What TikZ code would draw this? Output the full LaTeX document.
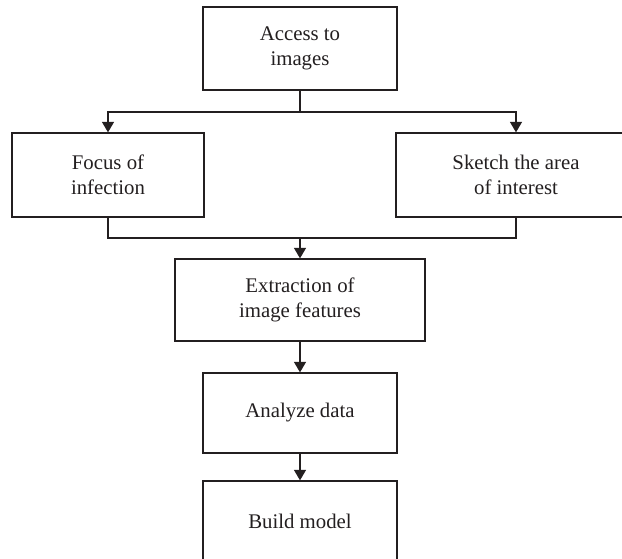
\documentclass[tikz,border=0pt]{standalone}
\usepackage{fontspec}
\setmainfont{Liberation Serif}
\usetikzlibrary{arrows.meta}
\definecolor{ink}{HTML}{231F20}
\begin{document}
\begin{tikzpicture}[x=1pt,y=-1pt,
  box/.style={draw=ink, line width=1.3pt, rectangle, inner sep=0pt, align=center,
              font=\fontsize{20.8}{25.5}\selectfont, text=ink},
  conn/.style={draw=ink, line width=1.3pt},
  arr/.style={conn, -{Triangle[width=12pt,length=10.5pt]}}]
\useasboundingbox (0,0) rectangle (622,558);
\fill[white] (0,0) rectangle (622,558);
\clip (0,0) rectangle (622,558);
\node[box, minimum width=194, minimum height=83] (access) at (300,48.5) {Access to\\images};
\node[box, minimum width=192, minimum height=84] (focus) at (108,175) {Focus of\\infection};
\node[box, minimum width=240, minimum height=84] (sketch) at (516,175) {Sketch the area\\of interest};
\node[box, minimum width=250, minimum height=82] (extract) at (300,300) {Extraction of\\image features};
\node[box, minimum width=194, minimum height=80] (analyze) at (300,413) {Analyze data};
\node[box, minimum width=194, minimum height=80] (build) at (300,521) {Build model};
\coordinate (split) at (access.south |- 0,112);
\coordinate (merge) at (extract.north |- 0,238);
\draw[conn] (access.south) -- (split);
\draw[arr] (split) -| (focus.north);
\draw[arr] (split) -| (sketch.north);
\draw[conn] (focus.south) |- (merge) -| (sketch.south);
\draw[arr] (merge) -- (extract.north);
\draw[arr] (extract) -- (analyze);
\draw[arr] (analyze) -- (build);
\end{tikzpicture}
\end{document}
